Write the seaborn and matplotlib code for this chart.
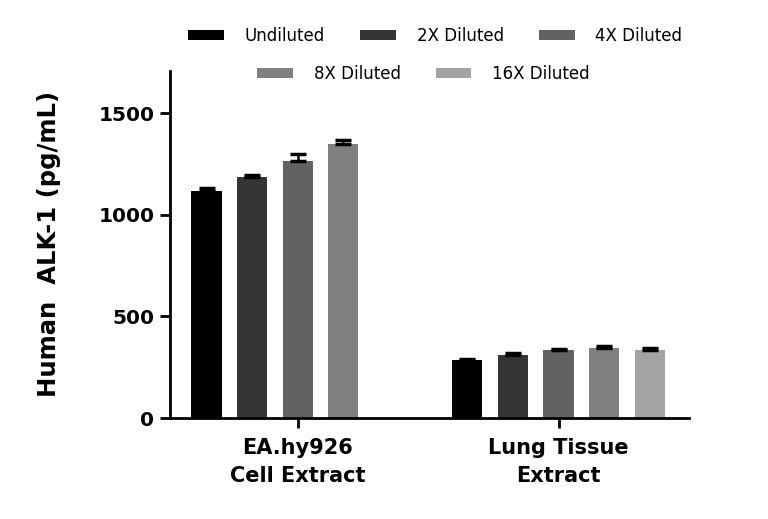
import numpy as np
import pandas as pd
import seaborn as sns
import matplotlib.pyplot as plt
from matplotlib.patches import Patch

# data
samples = ["EA.hy926\nCell Extract", "Lung Tissue\nExtract"]
dilutions = ["Undiluted", "2X Diluted", "4X Diluted", "8X Diluted", "16X Diluted"]
ea_means = [1118, 1187, 1266, 1348, np.nan]
ea_errs = [15, 8, 32, 23, np.nan]
lung_means = [284, 311, 333, 343, 336]
lung_errs = [8, 9, 5, 14, 7]
colors = ["#000000", "#353535", "#626262", "#808080", "#a3a3a3"]

rows = []
for s, means, errs in zip(samples, [ea_means, lung_means], [ea_errs, lung_errs]):
    for d, m, e in zip(dilutions, means, errs):
        rows.append({"sample": s, "dilution": d, "conc": m, "err": e})
df = pd.DataFrame(rows)

sns.set_theme(style="white")
plt.rcParams["font.family"] = ["DejaVu Sans"]
plt.rcParams["text.color"] = "black"
plt.rcParams["axes.labelcolor"] = "black"

fig = plt.figure(figsize=(7.68, 5.19), dpi=100)
ax = fig.add_axes([0.2214, 0.1946, 0.6756, 0.669])

sns.barplot(data=df.dropna(), x="sample", y="conc", hue="dilution",
            order=samples, hue_order=dilutions, palette=colors,
            width=0.875, gap=0.34, errorbar=None, legend=False, ax=ax,
            edgecolor="none", saturation=1)

# error bars (upper half only) on top of each bar
bar_sets = list(ax.containers)
for i, cont in enumerate(bar_sets):
    for bar in cont:
        h = bar.get_height()
        if np.isnan(h):
            continue
        xc = bar.get_x() + bar.get_width() / 2
        s = samples[int(round(xc))]
        e = df[(df["sample"] == s) & (df["dilution"] == dilutions[i])]["err"].iloc[0]
        ax.errorbar(xc, h, yerr=[[0], [e]], fmt="none", ecolor="black",
                    elinewidth=1.8, capsize=5.5, capthick=2.5)

ax.set_xlim(-0.49, 1.5)
ax.set_ylim(0, 1710)
ax.set_yticks([0, 500, 1000, 1500])
ax.set_xlabel("")
ax.set_ylabel("Human  ALK-1 (pg/mL)", fontsize=17.5, fontweight="bold",
              labelpad=27, color="black")

for side in ["top", "right"]:
    ax.spines[side].set_visible(False)
for side in ["left", "bottom"]:
    ax.spines[side].set_linewidth(2)
    ax.spines[side].set_color("black")
ax.tick_params(axis="both", direction="out", length=7.2, width=2, color="black",
               left=True, bottom=True)
ax.tick_params(axis="y", labelsize=14.5, pad=4)
ax.tick_params(axis="x", labelsize=15, pad=7)
for lbl in ax.get_xticklabels() + ax.get_yticklabels():
    lbl.set_fontweight("bold")
    lbl.set_color("black")
    lbl.set_linespacing(1.5)

# legend in two rows
handles = [Patch(facecolor=c, edgecolor="none") for c in colors]
kw = dict(frameon=False, fontsize=12, handlelength=2.15, handleheight=0.5,
          columnspacing=2.1, handletextpad=1.25, loc="center left",
          borderpad=0, borderaxespad=0, labelcolor="black")
fig.legend(handles[:3], dilutions[:3], ncol=3,
           bbox_to_anchor=(188 / 768, 1 - 36 / 519), **kw)
fig.legend(handles[3:], dilutions[3:], ncol=2,
           bbox_to_anchor=(257 / 768, 1 - 74 / 519), **kw)

fig.savefig("out.png", dpi=100)
